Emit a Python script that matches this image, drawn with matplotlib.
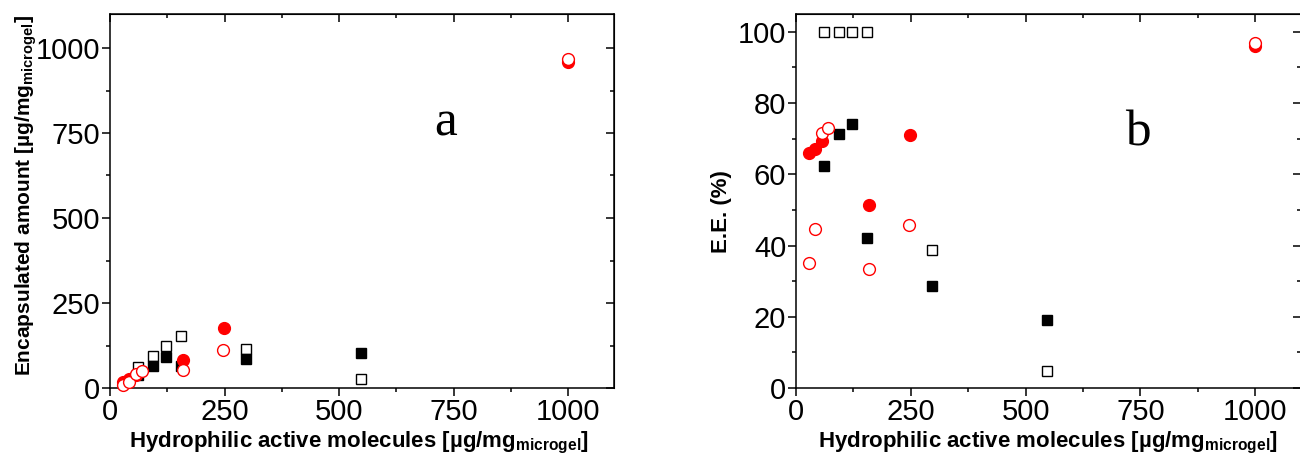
import matplotlib
matplotlib.use("Agg")
import matplotlib.pyplot as plt
from matplotlib.ticker import MultipleLocator

plt.rcParams['font.family'] = ['Liberation Sans', 'DejaVu Sans']
plt.rcParams['mathtext.fontset'] = 'custom'
plt.rcParams['mathtext.bf'] = 'Liberation Sans:bold'
plt.rcParams['mathtext.rm'] = 'Liberation Sans'
plt.rcParams['mathtext.default'] = 'bf'

# data
# panel a: encapsulated amount
x_sq = [62, 93, 123, 154, 296, 547]
a_sq_open = [62, 93, 123, 154, 115, 27]
a_sq_fill = [39, 66, 91, 65, 85, 104]
x_circ_fill = [29, 41, 56, 159, 248, 1000]
a_circ_fill = [19, 27, 39, 82, 176, 958]
x_circ_open = [28, 42, 56, 70, 159, 247, 1000]
a_circ_open = [10, 19, 40, 51, 53, 113, 968]

# panel b: E.E. (%)
b_sq_open = [100, 100, 100, 100, 38.8, 4.9]
b_sq_fill = [62.3, 71.3, 74, 42.2, 28.6, 19]
b_circ_fill = [66, 67, 69.3, 51.5, 71, 96]
b_circ_open = [35, 44.6, 71.7, 73, 33.3, 45.8, 96.8]

xticks = [0, 250, 500, 750, 1000]
a_yticks = [0, 250, 500, 750, 1000]
b_yticks = [0, 20, 40, 60, 80, 100]

xlabel = r"Hydrophilic active molecules [µg/mg$_{microgel}$]"

W, H = 1300, 461
fig = plt.figure(figsize=(13, 4.61), dpi=100)
axa = fig.add_axes([110 / W, 73 / H, 504 / W, 374 / H])
axb = fig.add_axes([796 / W, 73 / H, 505 / W, 374 / H])


def draw(ax, ysq_o, ysq_f, yc_f, yc_o):
    ax.plot(x_sq, ysq_o, 's', ms=7.5, mfc='white', mec='black', mew=1.0, ls='none', clip_on=False, zorder=3)
    ax.plot(x_sq, ysq_f, 's', ms=7.5, mfc='black', mec='black', ls='none', clip_on=False, zorder=4)
    ax.plot(x_circ_fill, yc_f, 'o', ms=8.5, mfc='red', mec='red', ls='none', clip_on=False, zorder=5)
    ax.plot(x_circ_open, yc_o, 'o', ms=8.5, mfc='white', mec='red', mew=1.0, ls='none', clip_on=False, zorder=6)


draw(axa, a_sq_open, a_sq_fill, a_circ_fill, a_circ_open)
draw(axb, b_sq_open, b_sq_fill, b_circ_fill, b_circ_open)

for ax, yt, ymax, ymin_step, ylab in [(axa, a_yticks, 1100, 125, r"Encapsulated amount [µg/mg$_{microgel}$]"),
                                      (axb, b_yticks, 105, 10, "E.E. (%)")]:
    ax.set_xlim(0, 1100)
    ax.set_ylim(0, ymax)
    ax.set_xticks(xticks)
    ax.set_yticks(yt)
    ax.xaxis.set_minor_locator(MultipleLocator(125))
    ax.yaxis.set_minor_locator(MultipleLocator(ymin_step))
    ax.tick_params(which='major', direction='out', length=6, width=1.1, labelsize=21, pad=1)
    ax.tick_params(which='minor', direction='out', length=3, width=1.1)
    for s in ax.spines.values():
        s.set_linewidth(1.1)
    top = ax.secondary_xaxis('top')
    top.set_xticks(xticks)
    top.xaxis.set_minor_locator(MultipleLocator(125))
    top.tick_params(which='major', direction='in', length=6, width=1.1, labeltop=False)
    top.tick_params(which='minor', direction='in', length=3, width=1.1)
    right = ax.secondary_yaxis('right')
    right.set_yticks(yt)
    right.yaxis.set_minor_locator(MultipleLocator(ymin_step))
    right.tick_params(which='major', direction='in', length=6, width=1.1, labelright=False)
    right.tick_params(which='minor', direction='in', length=3, width=1.1)
    ax.set_xlabel(xlabel, fontsize=16, fontweight='bold', va='top')

axa.set_ylabel(r"Encapsulated amount [µg/mg$_{microgel}$]", fontsize=15, fontweight='bold')
axb.set_ylabel("E.E. (%)", fontsize=16, fontweight='bold')

axa.xaxis.set_label_coords(0.494, -0.112)
axb.xaxis.set_label_coords(0.50, -0.112)
axa.yaxis.set_label_coords(-0.14, 0.516)
axb.yaxis.set_label_coords(-0.127, 0.473)

axa.text(732, 742, "a", family='Liberation Serif', fontsize=37, ha='center', va='baseline')
axb.text(745, 68, "b", family='Liberation Serif', fontsize=37, ha='center', va='baseline')

fig.savefig("out.png", dpi=100)
